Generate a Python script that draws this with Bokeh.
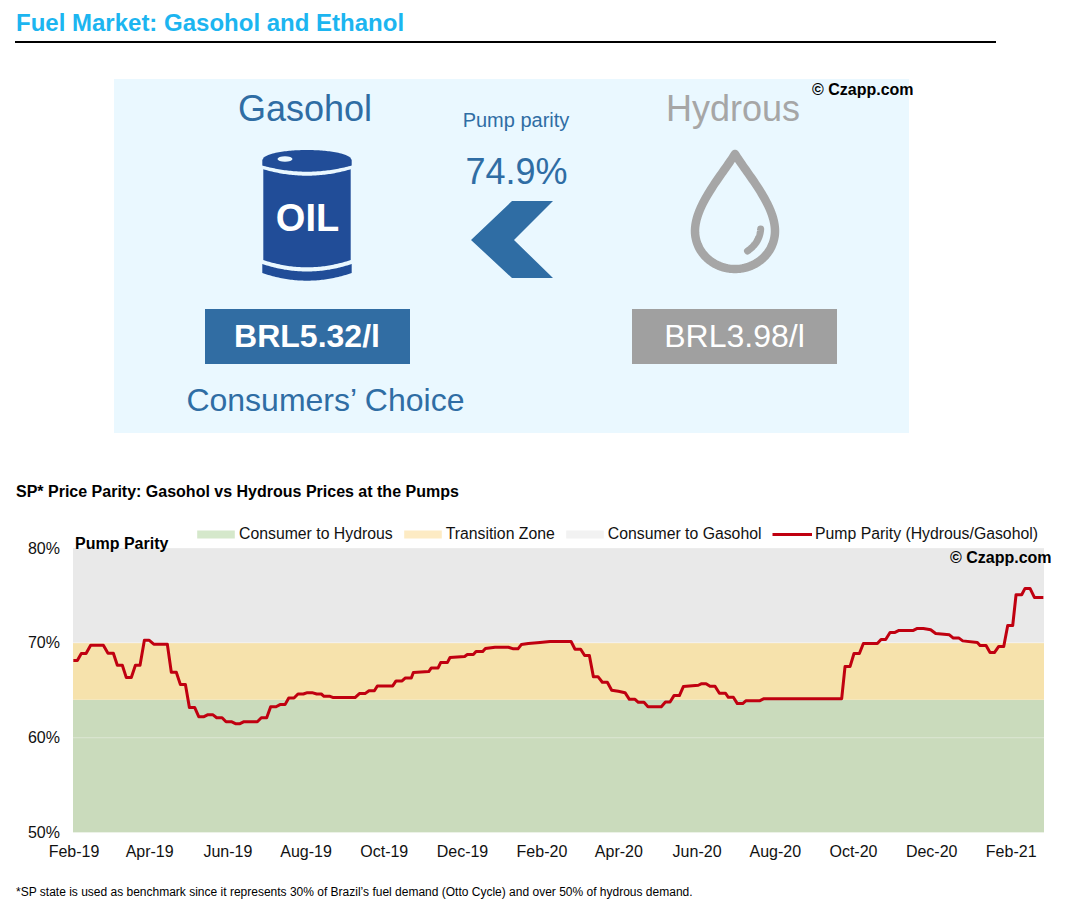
import numpy as np
from bokeh.core.properties import value
from bokeh.embed import file_html
from bokeh.models import FixedTicker, Legend, LegendItem, LinearAxis, Range1d
from bokeh.plotting import figure
from bokeh.resources import INLINE

FONT = "Liberation Sans"

# ---------- chart data ----------
month_days = [0, 59, 120, 181, 242, 303, 365, 425, 486, 547, 608, 669, 731]
month_labels = ["Feb-19", "Apr-19", "Jun-19", "Aug-19", "Oct-19", "Dec-19", "Feb-20",
                "Apr-20", "Jun-20", "Aug-20", "Oct-20", "Dec-20", "Feb-21"]
pct_ticks = [50, 60, 70, 80]
pct_labels = ["50%", "60%", "70%", "80%"]

band_names = ["Consumer to Hydrous", "Transition Zone", "Consumer to Gasohol"]
band_low = [50, 64, 70]
band_high = [64, 70, 80]

parity_day = [-0.5, 2.6, 5.7, 9.4, 13, 22.9, 26.5, 30.7, 33.8, 37.7, 40.8, 44.7, 47.9, 51.5, 54.9, 58.5,
              62.2, 72.8, 75.9, 79.8, 83, 86.9, 90, 94.1, 97.3, 101.4, 104.5, 108.2, 111.3, 115.5, 118.6,
              122.7, 125.9, 129.5, 132.6, 143, 146.1, 150.3, 153.4, 157.6, 160.7, 164.6, 167.5, 171.6,
              174.7, 178.9, 182, 185.7, 189.3, 192.9, 195, 199.7, 202.3, 219.2, 222.6, 227, 230.1, 234.3,
              236.6, 248.6, 251.2, 255.9, 258.5, 263.1, 264.7, 276.7, 278.7, 284, 286, 291.2, 293.3, 304.7,
              306.8, 311.5, 313.6, 318.8, 320.9, 328.4, 338.8, 342.7, 346.3, 348.9, 354.4, 363.5, 371.3,
              387.7, 390.8, 395.2, 398.3, 402, 405.1, 408.7, 412.1, 416, 419.4, 424.6, 429.8, 433.2, 437.6,
              440.2, 444.6, 447.7, 458.1, 461.3, 464.9, 468, 472.2, 475.3, 487, 489.6, 493, 496.1, 500,
              503.4, 508.1, 510.4, 514.3, 517.4, 521.6, 524.2, 535.1, 538.2, 598.8, 601.4, 605.3, 608.4,
              612.6, 615.7, 626.6, 629.5, 633.1, 636.5, 640.4, 643.5, 654.7, 657.8, 662.5, 668.2, 672.1,
              682.8, 685.9, 690.3, 693.2, 704.6, 706.7, 711.4, 714.5, 717.9, 721.3, 725.2, 728.3, 732.2,
              734.8, 739.2, 741.8, 745.7, 749.1, 756.1]
parity_pct = [68.13, 68.13, 68.87, 68.87, 69.75, 69.75, 68.91, 68.91, 67.64, 67.64, 66.34, 66.34, 67.64, 67.64,
              70.28, 70.28, 69.86, 69.86, 66.90, 66.90, 65.60, 65.60, 63.20, 63.20, 62.22, 62.22, 62.43, 62.43,
              62.11, 62.11, 61.69, 61.69, 61.48, 61.48, 61.69, 61.69, 62.11, 62.11, 63.27, 63.27, 63.49, 63.49,
              64.19, 64.19, 64.61, 64.61, 64.75, 64.75, 64.61, 64.61, 64.37, 64.37, 64.23, 64.23, 64.65, 64.65,
              64.96, 64.96, 65.46, 65.46, 65.99, 65.99, 66.30, 66.30, 66.87, 66.97, 67.36, 67.36, 67.92, 67.92,
              68.45, 68.56, 68.77, 68.77, 69.08, 69.08, 69.40, 69.54, 69.54, 69.37, 69.37, 69.82, 69.93, 70.04,
              70.14, 70.14, 69.33, 69.33, 68.66, 68.66, 66.44, 66.44, 65.85, 65.85, 65.00, 64.89, 64.75, 64.05,
              64.05, 63.73, 63.73, 63.27, 63.27, 63.77, 63.77, 64.44, 64.44, 65.39, 65.53, 65.70, 65.70, 65.43,
              65.43, 64.69, 64.69, 64.26, 64.26, 63.60, 63.60, 63.91, 63.91, 64.12, 64.12, 67.50, 67.50, 68.88,
              68.88, 69.93, 69.93, 70.36, 70.36, 71.10, 71.10, 71.31, 71.31, 71.52, 71.52, 71.38, 70.99, 70.85,
              70.50, 70.50, 70.21, 70.04, 69.72, 69.72, 68.98, 68.98, 69.62, 69.62, 71.83, 71.83, 75.07, 75.07,
              75.74, 75.74, 74.79, 74.79]

# ---------- infographic texts ----------
title_text = "Fuel Market: Gasohol and Ethanol"
gasohol_price = "BRL5.32/l"
hydrous_price = "BRL3.98/l"
parity_text = "74.9%"
subtitle = "SP* Price Parity: Gasohol vs Hydrous Prices at the Pumps"
footnote = ("*SP state is used as benchmark since it represents 30% of Brazil\u2019s fuel demand "
            "(Otto Cycle) and over 50% of hydrous demand.")

BLUE = "#2F6DA4"
GREY = "#A6A6A6"
NAVY = "#214D98"
PANEL = "#EAF8FF"

W, H = 1068, 912
# page-pixel <-> chart scale: the frame is the whole page, the chart's ranges are extended to match
PX_PER_DAY = 1 / 0.78
PX_PER_PCT = 284.6 / 30
LEFT_PX, TOP_PX = 73.5, 547.5
day_range = Range1d(-LEFT_PX / PX_PER_DAY, (W - LEFT_PX) / PX_PER_DAY)
pct_range = Range1d(80 - (H - TOP_PX) / PX_PER_PCT, 80 + TOP_PX / PX_PER_PCT)

p = figure(width=W, height=H, x_range=Range1d(0.5, W + 0.5), y_range=Range1d(H + 0.5, 0.5),
           x_axis_type=None, y_axis_type=None,
           output_backend="svg", toolbar_location=None, min_border=0,
           outline_line_color=None, background_fill_color="white", border_fill_color="white")
p.grid.visible = False
p.extra_x_ranges["days"] = day_range
p.extra_y_ranges["pct"] = pct_range


def txt(x, y, s, size, color, bold=False, align="center"):
    p.text([x], [y], text=[s], text_font=value(FONT), text_font_size=f"{size}px",
           text_color=color, text_align=align, text_baseline="middle",
           text_font_style="bold" if bold else "normal")


p.segment([15], [42], [996], [42], line_color="black", line_width=2)
p.quad(left=[114], right=[909], top=[79], bottom=[433], fill_color=PANEL, line_color=None)
p.quad(left=[205, 632], right=[410, 837], top=[309, 309], bottom=[364, 364],
       fill_color=["#316DA3", "#A0A0A0"], line_color=None)

# drum
t = np.linspace(-1, 1, 61)
cx, hw = 307.0, 44.7


def arc(y_side, y_mid, half):
    return cx + half * t, y_side + (y_mid - y_side) * (1 - t ** 2)


lx = np.concatenate([cx + hw * t, (cx + hw * t)[::-1]])
ly = np.concatenate([160 - 10 * np.sqrt(1 - t ** 2), (165.5 + 6.2 * (1 - t ** 2))[::-1]])
p.patch(lx, ly, fill_color=NAVY, line_color=None)
bx1, by1 = arc(169.3, 175.7, 43.7)
bx2, by2 = arc(260, 267.3, 43.7)
p.patch(np.concatenate([bx1, bx2[::-1]]), np.concatenate([by1, by2[::-1]]), fill_color=NAVY, line_color=None)
cx1, cy1 = arc(264, 271.5, hw)
cx2, cy2 = arc(273, 280.7, hw)
p.patch(np.concatenate([cx1, cx2[::-1]]), np.concatenate([cy1, cy2[::-1]]), fill_color=NAVY, line_color=None)
p.ellipse([285], [159], width=15, height=5.5, fill_color=PANEL, line_color=None)
txt(307.5, 218, "OIL", 38, "white", bold=True)

# chevron
p.patch([471, 512, 553, 514, 553, 512], [240, 201, 201, 240, 278, 278], fill_color=BLUE, line_color=None)

# drop
u = np.linspace(0, 1, 40)


def bez(p0, p1, p2, p3):
    return (1 - u) ** 3 * p0 + 3 * (1 - u) ** 2 * u * p1 + 3 * (1 - u) * u ** 2 * p2 + u ** 3 * p3


ang = np.linspace(np.pi, 0, 60)
dx = np.concatenate([bez(735, 722, 695, 695), 735 + 40 * np.cos(ang), bez(775, 775, 748, 735)])
dy = np.concatenate([bez(154, 175, 205, 231), 231 + 38 * np.sin(ang), bez(231, 205, 175, 154)])
p.line(dx, dy, line_color=GREY, line_width=8.5, line_join="round", line_cap="round")
p.line(bez(760.7, 760, 756, 747.5), bez(229, 238, 245, 251), line_color=GREY, line_width=7, line_cap="round")

txt(16, 22, title_text, 24, "#1CB5F0", bold=True, align="left")
txt(305, 108, "Gasohol", 36, BLUE)
txt(733, 108, "Hydrous", 36, GREY)
txt(516, 120, "Pump parity", 20, BLUE)
txt(516.5, 171, parity_text, 36, BLUE)
txt(307, 336, gasohol_price, 32, "white", bold=True)
txt(734.5, 336, hydrous_price, 32, "white")
txt(326, 400, "Consumers\u2019 Choice", 32, BLUE)
txt(812, 89, "\u00a9 Czapp.com", 16, "black", bold=True, align="left")
txt(16, 491, subtitle, 16, "black", bold=True, align="left")
txt(16, 892, footnote, 12, "black", align="left")

# ---------- the chart, on its own scales ----------
CH = dict(x_range_name="days", y_range_name="pct")
x0, x1 = -0.78, 756.6
p.quad(left=[x0] * 3, right=[x1] * 3, bottom=band_low, top=band_high,
       fill_color=["#CADBBC", "#F6E2AC", "#E9E9E9"], line_color=None, **CH)
p.segment([x0] * 4, pct_ticks, [x1] * 4, pct_ticks, line_color="white", line_alpha=0.35, line_width=1, **CH)
line = p.line(parity_day, parity_pct, line_color="#C00010", line_width=3, line_join="round", **CH)

txt(75, 543, "Pump Parity", 16, "black", bold=True, align="left")
txt(950, 557, "\u00a9 Czapp.com", 16, "black", bold=True, align="left")

nan = float("nan")
swatches = [p.quad(left=[nan], right=[nan], bottom=[nan], top=[nan], fill_color=c, line_color=None)
            for c in ["#D5E8CB", "#FDEBC4", "#F2F2F2"]]
LEGEND_STYLE = dict(orientation="horizontal", padding=0, margin=0, glyph_height=10, label_text_font=FONT,
                    label_text_font_size="15.8px", label_text_color="#111111",
                    background_fill_alpha=0, border_line_color=None)
legend = Legend(items=[LegendItem(label=n, renderers=[r]) for n, r in zip(band_names, swatches)],
                location=(192, H - 543), spacing=6, glyph_width=47, label_standoff=0, **LEGEND_STYLE)
legend_line = Legend(items=[LegendItem(label="Pump Parity (Hydrous/Gasohol)", renderers=[line])],
                     location=(772, H - 543), spacing=0, glyph_width=40, label_standoff=3, **LEGEND_STYLE)
p.add_layout(legend, "center")
p.add_layout(legend_line, "center")

xaxis = LinearAxis(fixed_location=50, ticker=FixedTicker(ticks=month_days),
                   major_label_overrides=dict(zip(month_days, month_labels)), major_label_standoff=4, **CH)
yaxis = LinearAxis(fixed_location=x0, ticker=FixedTicker(ticks=pct_ticks),
                   major_label_overrides=dict(zip(pct_ticks, pct_labels)), major_label_standoff=7, **CH)
for ax in (xaxis, yaxis):
    ax.axis_line_color = None
    ax.major_tick_line_color = None
    ax.minor_tick_line_color = None
    ax.major_label_text_font = FONT
    ax.major_label_text_font_size = "16px"
    ax.major_label_text_color = "#111111"
p.add_layout(xaxis, "below")
p.add_layout(yaxis, "left")

open("out.html", "w").write(file_html(p, INLINE))
